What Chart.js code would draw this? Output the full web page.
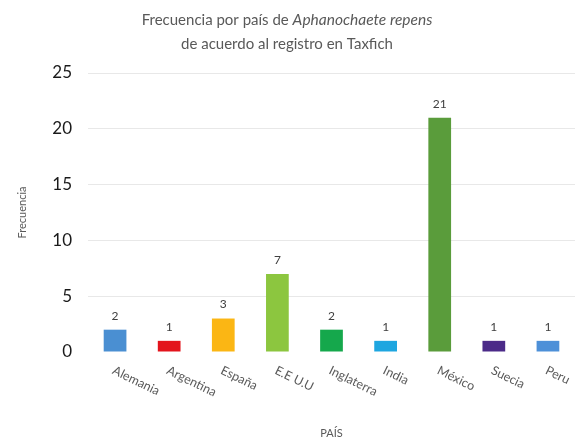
<!DOCTYPE html>
<html>
<head>
<meta charset="utf-8">
<script src="https://cdn.jsdelivr.net/npm/chart.js@4.4.1/dist/chart.umd.min.js"></script>
<style>
  html, body { margin: 0; padding: 0; background: #ffffff; }
  #wrap { width: 575px; height: 442px; position: relative; }
</style>
</head>
<body>
<div id="wrap"><canvas id="c" width="575" height="442"></canvas></div>
<script>
// ---- data ----
const categories = ["Alemania", "Argentina", "España", "E.E U.U", "Inglaterra", "India", "México", "Suecia", "Peru"];
const values = [2, 1, 3, 7, 2, 1, 21, 1, 1];
const yTicks = [0, 5, 10, 15, 20, 25];
const barColors = ["#4a8fd2", "#e3141c", "#fbb614", "#8cc63f", "#15a84c", "#1ea6e0", "#5a9c3b", "#4b2a88", "#4d90d8"];
const titleNormal = "Frecuencia por país de ";
const titleItalic = "Aphanochaete repens";
const titleLine2 = "de acuerdo al registro en Taxfich";
const yTitle = "Frecuencia";
const xTitle = "PAÍS";

const FONT = "Lato, 'Open Sans', sans-serif";

const decorPlugin = {
  id: 'decor',
  afterDatasetsDraw(chart) {
    const ctx = chart.ctx;
    const meta = chart.getDatasetMeta(0);
    const xs = chart.scales.x;
    const area = chart.chartArea;
    ctx.save();
    // data labels
    ctx.fillStyle = "#404040";
    ctx.font = "12px " + FONT;
    ctx.textAlign = "center";
    ctx.textBaseline = "middle";
    meta.data.forEach((bar, i) => {
      ctx.fillText(String(values[i]), bar.x, bar.y - 14);
    });
    // rotated x labels
    ctx.fillStyle = "#595959";
    ctx.font = "12.5px " + FONT;
    ctx.textAlign = "left";
    ctx.textBaseline = "top";
    categories.forEach((c, i) => {
      const x = xs.getPixelForValue(i);
      ctx.save();
      ctx.translate(x + 1, area.bottom + 12);
      ctx.rotate(26 * Math.PI / 180);
      ctx.fillText(c, 0, 0);
      ctx.restore();
    });
    // x title
    ctx.font = "11px " + FONT;
    ctx.textAlign = "center";
    ctx.textBaseline = "middle";
    ctx.fillText(xTitle, (area.left + area.right) / 2, 433);
    // y title
    ctx.save();
    ctx.translate(22, (area.top + area.bottom) / 2);
    ctx.rotate(-Math.PI / 2);
    ctx.fillText(yTitle, 0, 0);
    ctx.restore();
    // chart title
    ctx.fillStyle = "#595959";
    ctx.textBaseline = "alphabetic";
    ctx.textAlign = "left";
    const normalFont = "15px " + FONT;
    const italicFont = "italic 15.5px " + FONT;
    ctx.font = normalFont;
    const w1 = ctx.measureText(titleNormal).width;
    ctx.font = italicFont;
    const w2 = ctx.measureText(titleItalic).width;
    const cx = 287;
    let sx = cx - (w1 + w2) / 2;
    ctx.font = normalFont;
    ctx.fillText(titleNormal, sx, 25);
    ctx.font = italicFont;
    ctx.fillText(titleItalic, sx + w1, 25);
    ctx.font = normalFont;
    ctx.textAlign = "center";
    ctx.fillText(titleLine2, cx, 49);
    ctx.restore();
  }
};

new Chart(document.getElementById('c'), {
  type: 'bar',
  data: {
    labels: categories,
    datasets: [{
      data: values,
      backgroundColor: barColors,
      borderWidth: 0,
      barPercentage: 0.42,
      categoryPercentage: 1.0
    }]
  },
  options: {
    responsive: false,
    animation: false,
    devicePixelRatio: 1,
    layout: { padding: { top: 73, bottom: 90, left: 0, right: 0 } },
    plugins: { legend: { display: false }, tooltip: { enabled: false }, title: { display: false } },
    scales: {
      x: { display: false },
      y: {
        min: 0, max: 25,
        afterFit(scale) { scale.width = 88; },
        afterBuildTicks(scale) { scale.ticks = yTicks.map(v => ({ value: v })); },
        border: { display: false },
        grid: {
          drawTicks: false,
          color: ctx => (ctx.tick && ctx.tick.value === 0) ? 'rgba(0,0,0,0)' : '#e8e8e8',
          lineWidth: 1
        },
        ticks: {
          padding: 16,
          color: "#1a1a1a",
          font: { family: FONT, size: 17 }
        }
      }
    }
  },
  plugins: [decorPlugin]
});
</script>
</body>
</html>
